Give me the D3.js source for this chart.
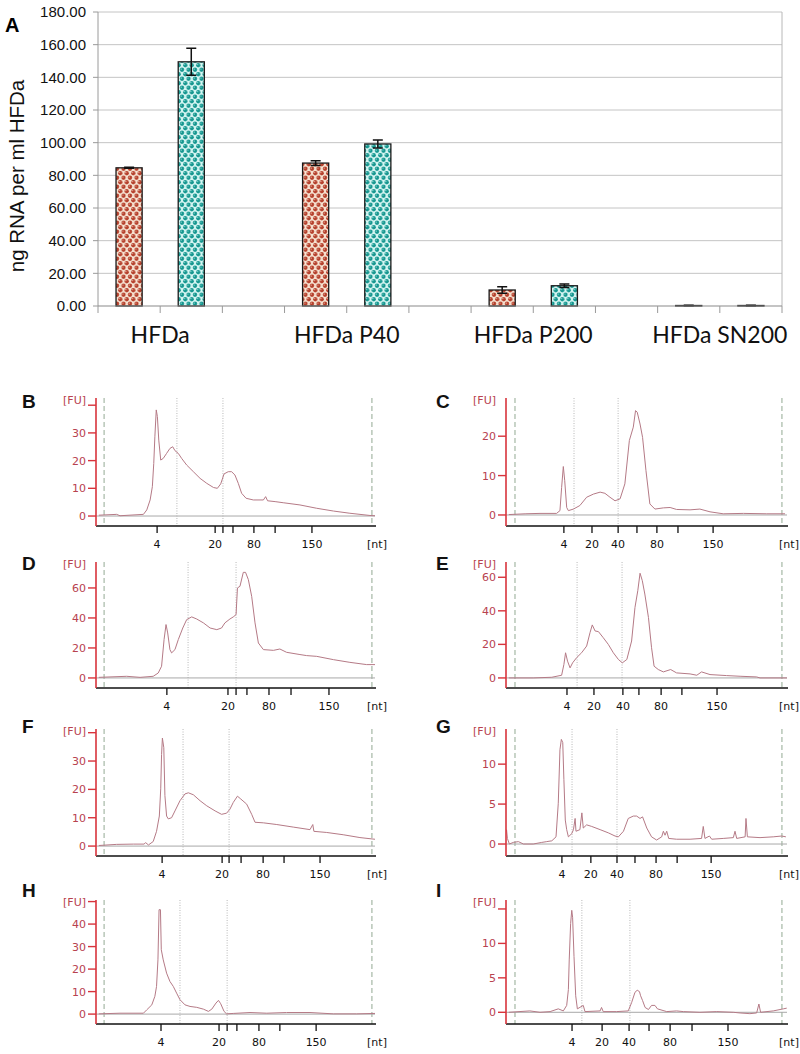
<!DOCTYPE html>
<html><head><meta charset="utf-8">
<script src="https://cdn.jsdelivr.net/npm/d3@7"></script>
<style>body{margin:0;background:#fff}svg{display:block}</style>
</head><body>
<svg id="fig" width="800" height="1054"></svg>
<script>
// ---------- Panel A data ----------
const groups = ["HFDa", "HFDa P40", "HFDa P200", "HFDa SN200"];
const redValues = [84.6, 87.5, 9.8, 0.3];
const redErrors = [0.3, 1.5, 2.0, 0.1];
const tealValues = [149.5, 99.2, 12.4, 0.3];
const tealErrors = [8.3, 2.5, 1.0, 0.1];
const yTicksA = [0, 20, 40, 60, 80, 100, 120, 140, 160, 180];
const yTitleA = "ng RNA per ml HFDa";

// ---------- Electropherogram data (migration a.u. 0-100, FU) ----------
const traceB = [[1,0.3],[7.4,0.6],[8.6,0.1],[17.0,0.6],[18.2,2.2],[19.4,5.8],[20.2,10.6],[20.7,19.0],[21.1,28.6],[21.6,38.3],[22.0,35.9],[22.5,27.4],[23.2,20.2],[24.1,20.8],[25.3,22.6],[26.5,24.4],[27.5,25.0],[28.3,23.6],[29.5,22.6],[30.7,20.8],[32.5,18.4],[34.9,16.0],[37.3,13.6],[39.7,11.8],[42.1,10.3],[43.5,10.0],[44.7,11.6],[45.9,15.2],[47.4,16.0],[48.6,16.0],[49.8,14.8],[51.0,11.8],[52.2,8.2],[53.8,6.4],[56.4,5.8],[60.0,5.8],[60.8,7.0],[61.5,5.5],[64.2,5.2],[67.1,4.8],[73.1,4.0],[79.1,2.8],[85.1,1.8],[91.0,1.0],[98.2,0.2],[100,0.1]];
const traceD = [[1,0.4],[11.0,1.1],[15.8,0.4],[20.5,1.1],[22.3,3.3],[23.5,7.8],[24.4,25.6],[25.1,35.6],[25.7,30.0],[26.5,18.9],[27.1,16.7],[28.3,18.9],[29.5,25.6],[31.1,33.3],[32.5,38.9],[34.3,40.7],[36.1,39.3],[38.5,36.7],[40.9,33.3],[43.3,32.2],[45.0,33.3],[46.2,36.7],[48.0,39.3],[49.2,40.7],[50.2,42.2],[50.7,60.0],[51.6,61.1],[52.8,70.4],[53.6,70.4],[54.6,65.6],[55.8,54.4],[57.0,36.7],[58.2,23.3],[60.0,18.9],[63.6,18.4],[65.9,19.3],[68.3,17.1],[73.1,15.6],[75.5,14.9],[79.1,14.4],[85.1,12.2],[91.0,10.4],[97.0,8.9],[100,8.9]];
const traceF = [[1,0.2],[7.4,0.6],[13.4,0.7],[17.2,0.7],[17.8,1.2],[18.8,0.4],[20.5,1.6],[21.7,5.2],[22.7,10.6],[23.2,20.2],[23.5,32.3],[23.8,38.1],[24.3,34.7],[24.7,17.8],[25.3,10.6],[25.9,9.6],[27.1,10.0],[28.3,12.4],[30.1,16.0],[31.9,18.4],[33.1,18.8],[34.9,18.1],[37.3,16.0],[39.7,14.2],[42.7,12.4],[45.0,11.2],[46.8,11.6],[48.0,13.0],[49.2,15.4],[50.7,17.6],[51.9,16.6],[54.0,14.8],[55.8,11.2],[57.0,8.4],[60.0,8.2],[64.8,7.6],[70.7,6.7],[76.7,5.8],[77.7,7.6],[78.1,5.2],[82.7,4.8],[88.6,4.0],[94.6,3.0],[100,2.4]];
const traceH = [[1,0.1],[8.6,0.4],[17.0,0.4],[18.2,1.9],[20.0,4.1],[21.1,7.9],[21.7,12.3],[22.2,24.1],[22.6,46.4],[23.1,46.4],[23.4,28.6],[24.1,24.1],[25.3,18.2],[26.5,14.5],[27.7,12.3],[28.9,9.3],[30.1,6.4],[31.9,4.1],[33.7,3.4],[36.1,3.0],[38.5,2.2],[40.3,1.2],[41.5,2.2],[43.0,4.9],[43.9,6.1],[44.7,4.6],[45.9,1.2],[46.8,0.1],[49.2,0.3],[55.2,0.7],[61.2,0.4],[68.3,0.7],[76.7,0.7],[85.1,0.1],[93.4,0.1],[100,0.3]];
const traceC = [[1,0.1],[6.8,0.3],[12.1,0.4],[18.0,0.4],[19.2,1.1],[19.8,7.0],[20.4,12.3],[20.9,8.7],[21.6,1.9],[22.2,1.1],[24.0,1.5],[26.3,2.4],[28.7,4.5],[29.9,4.9],[31.1,5.3],[33.5,5.8],[35.2,5.5],[37.0,4.5],[38.8,3.6],[40.6,4.1],[42.3,7.9],[43.9,18.9],[45.3,22.3],[46.1,26.5],[46.7,26.1],[47.7,23.1],[48.6,19.7],[49.8,11.3],[51.2,2.8],[53.0,1.5],[56.0,1.8],[58.4,1.9],[60.7,1.4],[65.5,1.3],[69.0,1.5],[72.6,0.8],[77.3,0.3],[84.5,0.4],[92.8,0.3],[99.3,0.3]];
const traceE = [[1,0],[9.7,0],[16.3,0.4],[19.8,1.6],[20.6,8.0],[21.2,15.0],[21.9,10.0],[22.8,6.0],[23.7,9.0],[25.1,12.0],[26.9,15.0],[28.7,19.0],[29.9,27.0],[30.7,31.6],[31.7,28.0],[32.9,27.6],[34.6,24.0],[36.4,20.0],[38.2,15.0],[40.0,11.0],[41.4,9.0],[43.0,11.0],[44.7,22.0],[45.9,42.0],[46.9,52.0],[47.7,62.4],[48.5,58.0],[49.4,50.0],[50.7,36.0],[51.8,18.0],[52.7,7.0],[54.2,5.0],[56.0,3.6],[58.6,5.0],[60.7,3.0],[65.5,2.4],[67.9,1.6],[69.6,3.6],[72.6,2.0],[78.5,1.4],[83.3,1.0],[89.2,0.6],[90.4,0],[100,0]];
const traceG = [[0.2,1.8],[0.5,0.7],[1.2,0],[2.6,0.2],[4.4,0.3],[6.2,0],[9.7,0],[12.7,0.2],[14.5,0.3],[16.3,0.4],[17.8,0.9],[18.6,5.1],[19.2,11.8],[19.7,13.1],[20.2,12.7],[20.6,8.1],[21.1,3.0],[21.6,1.8],[22.2,0.9],[23.4,1.3],[24.0,1.8],[24.6,3.2],[24.9,1.6],[26.3,1.8],[27.0,3.9],[27.5,2.0],[28.7,2.4],[30.5,2.2],[33.5,1.8],[36.4,1.4],[38.8,1.0],[40.0,0.9],[41.8,1.6],[43.5,3.2],[45.3,3.5],[46.5,3.5],[47.7,3.2],[48.6,3.4],[50.1,2.0],[51.8,0.9],[53.6,0.5],[55.4,0.9],[56.0,1.6],[56.6,1.1],[57.2,1.6],[57.9,0.7],[60.7,0.6],[65.5,0.6],[69.6,0.7],[70.2,2.2],[70.8,0.7],[72.4,1.0],[73.2,0.6],[77.3,0.7],[80.9,0.8],[81.5,1.6],[82.1,0.7],[85.1,0.9],[85.4,3.2],[85.9,0.9],[90.4,0.8],[95.1,0.9],[98.1,1.0],[99.6,0.9]];
const traceI = [[1,0],[8.5,0.2],[12.1,0],[15.7,0.1],[18.6,0.5],[20.4,0.2],[21.6,1.0],[22.2,3.3],[22.5,7.6],[23.0,12.9],[23.4,14.8],[23.7,13.8],[24.2,8.1],[24.8,2.4],[25.4,0.5],[27.5,1.0],[28.1,0.1],[33.5,0.2],[34.0,0.7],[34.6,0.1],[39.4,0.1],[43.5,0.2],[44.7,1.4],[45.9,2.9],[46.7,3.2],[47.5,3.0],[47.9,2.4],[48.6,1.7],[49.5,0.7],[50.7,0.4],[51.8,1.0],[53.0,1.0],[53.9,0.5],[57.2,0.1],[60.7,0.2],[63.1,0.1],[69.0,0],[75.0,0.1],[80.9,0],[83.3,-0.1],[86.8,-0.2],[89.2,-0.1],[90.0,1.2],[90.6,0],[95.1,0.2],[98.7,0.5],[99.9,0.6]];

// ladder tick positions (migration a.u.) and labels
const ladderLabelsLeft = ["4", "20", "", "", "80", "", "150"];
const ladderLabelsRight = ["4", "20", "40", "", "80", "", "150"];
const ladderB = [21.9, 42.7, 45.5, 49.1, 56.6, 64.2, 77.4];
const ladderD = [25.4, 47.3, 50.2, 54.1, 62.0, 69.9, 83.5];
const ladderF = [23.7, 45.2, 47.7, 52.0, 59.9, 67.4, 80.3];
const ladderH = [23.3, 44.1, 47.0, 50.5, 58.4, 65.9, 78.9];
const ladderC = [20.6, 30.6, 39.9, 46.6, 53.7, 61.2, 73.7];
const ladderE = [21.7, 31.3, 41.6, 47.3, 55.2, 62.6, 75.1];
const ladderG = [19.9, 30.2, 39.5, 45.9, 53.4, 60.9, 73.0];
const ladderI = [23.5, 34.2, 43.8, 50.9, 58.4, 66.2, 79.0];

// region markers (dotted) and dashed boundary lines
const markersB = [29.0, 45.5], markersD = [33.0, 50.2], markersF = [31.2, 47.7], markersH = [30.1, 47.0];
const markersC = [24.2, 39.9], markersE = [25.3, 41.3], markersG = [23.5, 39.5], markersI = [27.0, 44.1];
const boundsLeft = [2.9, 98.9], boundsRight = [3.2, 98.2];

// y ticks (FU)
const yTicksB = [0, 10, 20, 30], yTopB = 40, yDomB = [-3.6, 42.6];
const yTicksD = [0, 20, 40, 60], yTopD = null, yDomD = [-6.7, 77.3];
const yTicksF = [0, 10, 20, 30], yTopF = 40, yDomF = [-3.5, 41.3];
const yTicksH = [0, 10, 20, 30, 40], yTopH = 50, yDomH = [-4.4, 50.7];
const yTicksC = [0, 10, 20], yTopC = null, yDomC = [-2.8, 29.7];
const yTicksE = [0, 20, 40, 60], yTopE = null, yDomE = [-6.0, 69.1];
const yTicksG = [0, 5, 10], yTopG = null, yDomG = [-1.5, 14.4];
const yTicksI = [0, 5, 10], yTopI = 15, yDomI = [-1.7, 16.3];

const panels = [
  {letter: "B", col: 0, row: 0, trace: traceB, ladder: ladderB, markers: markersB, ticks: yTicksB, top: yTopB, dom: yDomB},
  {letter: "D", col: 0, row: 1, trace: traceD, ladder: ladderD, markers: markersD, ticks: yTicksD, top: yTopD, dom: yDomD},
  {letter: "F", col: 0, row: 2, trace: traceF, ladder: ladderF, markers: markersF, ticks: yTicksF, top: yTopF, dom: yDomF},
  {letter: "H", col: 0, row: 3, trace: traceH, ladder: ladderH, markers: markersH, ticks: yTicksH, top: yTopH, dom: yDomH},
  {letter: "C", col: 1, row: 0, trace: traceC, ladder: ladderC, markers: markersC, ticks: yTicksC, top: yTopC, dom: yDomC},
  {letter: "E", col: 1, row: 1, trace: traceE, ladder: ladderE, markers: markersE, ticks: yTicksE, top: yTopE, dom: yDomE},
  {letter: "G", col: 1, row: 2, trace: traceG, ladder: ladderG, markers: markersG, ticks: yTicksG, top: yTopG, dom: yDomG},
  {letter: "I", col: 1, row: 3, trace: traceI, ladder: ladderI, markers: markersI, ticks: yTicksI, top: yTopI, dom: yDomI}
];

// ---------- drawing ----------
const svg = d3.select("#fig");
const defs = svg.append("defs");
function dotPattern(id, bg, dot, hi) {
  const w = 6.5, h = 9, r = 2.15;
  const p = defs.append("pattern").attr("id", id).attr("patternUnits", "userSpaceOnUse")
    .attr("width", w).attr("height", h);
  p.append("rect").attr("width", w).attr("height", h).attr("fill", bg);
  [[w / 2, h / 4], [0, 3 * h / 4], [w, 3 * h / 4]].forEach(([cx, cy]) => {
    p.append("circle").attr("cx", cx).attr("cy", cy).attr("r", r).attr("fill", dot);
    p.append("circle").attr("cx", cx - 0.7).attr("cy", cy - 0.7).attr("r", 0.6).attr("fill", hi);
  });
}
dotPattern("patRed", "#f7e3d2", "#b5402c", "#f0c0ae");
dotPattern("patTeal", "#d6f6f3", "#15968f", "#9fe4dd");

// ----- Panel A -----
const A = {left: 98, right: 782, top: 12, bottom: 306};
const nSlots = groups.length * 3 - 1;
const xA = d3.scaleBand().domain(d3.range(nSlots)).range([A.left, A.right]).padding(0);
const yA = d3.scaleLinear().domain([0, 180]).range([A.bottom, A.top]);
const gA = svg.append("g");

gA.selectAll("line.grid").data(yTicksA.filter(d => d > 0)).join("line")
  .attr("x1", A.left).attr("x2", A.right).attr("y1", d => yA(d)).attr("y2", d => yA(d))
  .attr("stroke", "#c4c4c4").attr("stroke-width", 1);
gA.append("line").attr("x1", A.right).attr("x2", A.right).attr("y1", A.top).attr("y2", A.bottom)
  .attr("stroke", "#b8b8b8");
gA.append("line").attr("x1", A.left).attr("x2", A.left).attr("y1", A.top).attr("y2", A.bottom)
  .attr("stroke", "#9a9a9a");
gA.selectAll("line.yt").data(yTicksA).join("line")
  .attr("x1", A.left - 5).attr("x2", A.left).attr("y1", d => yA(d)).attr("y2", d => yA(d))
  .attr("stroke", "#9a9a9a");
gA.selectAll("text.yl").data(yTicksA).join("text")
  .attr("x", A.left - 12).attr("y", d => yA(d)).attr("dy", "0.35em").attr("text-anchor", "end")
  .attr("font-family", "Liberation Sans, Arial, sans-serif").attr("font-size", 15).attr("fill", "#111")
  .text(d => d.toFixed(2));
gA.append("text").attr("transform", `translate(24,176) rotate(-90)`)
  .attr("text-anchor", "middle").attr("font-family", "Liberation Sans, Arial, sans-serif")
  .attr("font-size", 20.5).attr("fill", "#111").text(yTitleA);
gA.append("text").attr("x", 5).attr("y", 32).attr("font-family", "Liberation Sans, Arial, sans-serif")
  .attr("font-weight", "bold").attr("font-size", 20).text("A");

const bw = xA.step() * 0.42;
function barData(vals, errs, s) {
  return vals.map((v, g) => ({v, e: errs[g], slot: g * 3 + s}));
}
[[barData(redValues, redErrors, 0), "url(#patRed)"], [barData(tealValues, tealErrors, 1), "url(#patTeal)"]]
  .forEach(([data, fill]) => {
    const cx = d => xA(d.slot) + xA.step() / 2;
    gA.selectAll(null).data(data).join("rect")
      .attr("x", d => cx(d) - bw / 2).attr("width", bw)
      .attr("y", d => yA(d.v)).attr("height", d => yA(0) - yA(d.v))
      .attr("fill", fill).attr("stroke", "#1a1a1a").attr("stroke-width", 1.3);
    gA.selectAll(null).data(data).join("path")
      .attr("d", d => `M${cx(d)},${yA(d.v + d.e)}V${yA(d.v - d.e)}M${cx(d) - 5},${yA(d.v + d.e)}H${cx(d) + 5}M${cx(d) - 5},${yA(d.v - d.e)}H${cx(d) + 5}`)
      .attr("stroke", "#111").attr("stroke-width", 1.5).attr("fill", "none");
  });
// x axis of A
gA.append("line").attr("x1", A.left).attr("x2", A.right).attr("y1", A.bottom).attr("y2", A.bottom)
  .attr("stroke", "#8a8a8a").attr("stroke-width", 1.2);
gA.selectAll("line.xt").data(d3.range(nSlots + 1)).join("line")
  .attr("x1", i => A.left + i * xA.step()).attr("x2", i => A.left + i * xA.step())
  .attr("y1", A.bottom).attr("y2", A.bottom + 7).attr("stroke", "#9a9a9a");
gA.selectAll("text.cat").data(groups).join("text")
  .attr("x", (d, g) => xA(g * 3) + xA.step())
  .attr("y", 343).attr("text-anchor", "middle")
  .attr("font-family", "Lato, 'Open Sans', sans-serif").attr("font-size", 23).attr("fill", "#111")
  .text(d => d);

// ----- Electropherograms -----
const colX = [[96, 375], [506, 787]];
const rowTop = [398, 562, 729, 900];
const rowBottom = [526, 688, 856, 1024];
const letterX = [22, 436];
const letterY = [408, 570, 733, 897];
const redAxis = "#d8343c", redText = "#b8424f", traceColor = "#b57a86";

panels.forEach(p => {
  const [x0, x1] = colX[p.col];
  const top = rowTop[p.row], bottom = rowBottom[p.row];
  const x = d3.scaleLinear().domain([0, 100]).range([x0, x1]);
  const y = d3.scaleLinear().domain(p.dom).range([bottom, top]);
  const g = svg.append("g");
  const bounds = p.col === 0 ? boundsLeft : boundsRight;
  const labels = p.col === 0 ? ladderLabelsLeft : ladderLabelsRight;

  g.selectAll(null).data(bounds).join("line")
    .attr("x1", d => x(d)).attr("x2", d => x(d)).attr("y1", top).attr("y2", bottom)
    .attr("stroke", "#93a993").attr("stroke-width", 1).attr("stroke-dasharray", "5,3");
  g.selectAll(null).data(p.markers).join("line")
    .attr("x1", d => x(d)).attr("x2", d => x(d)).attr("y1", top).attr("y2", bottom)
    .attr("stroke", "#b8b8b8").attr("stroke-width", 1).attr("stroke-dasharray", "1,1.5");
  g.append("line").attr("x1", x0).attr("x2", x1).attr("y1", y(0)).attr("y2", y(0))
    .attr("stroke", "#a8a8a8").attr("stroke-width", 1);
  g.append("path").datum(p.trace)
    .attr("d", d3.line().x(d => x(d[0])).y(d => y(d[1])))
    .attr("fill", "none").attr("stroke", traceColor).attr("stroke-width", 1);
  g.append("line").attr("x1", x0).attr("x2", x1 + 1).attr("y1", bottom).attr("y2", bottom)
    .attr("stroke", "#111").attr("stroke-width", 1.4);
  g.selectAll(null).data(p.ladder).join("line")
    .attr("x1", d => x(d)).attr("x2", d => x(d)).attr("y1", bottom).attr("y2", bottom + 7)
    .attr("stroke", "#111").attr("stroke-width", 1.3);
  g.selectAll(null).data(p.ladder).join("text")
    .attr("x", d => x(d)).attr("y", bottom + 22).attr("text-anchor", "middle")
    .attr("font-family", "DejaVu Sans, sans-serif").attr("font-size", 11).attr("fill", "#111")
    .text((d, i) => labels[i]);
  g.append("text").attr("x", x1 + 2).attr("y", bottom + 22).attr("text-anchor", "middle")
    .attr("font-family", "DejaVu Sans, sans-serif").attr("font-size", 11).attr("fill", "#111").text("[nt]");
  g.append("line").attr("x1", x0).attr("x2", x0).attr("y1", top).attr("y2", bottom)
    .attr("stroke", redAxis).attr("stroke-width", 1.6);
  const tickVals = p.top !== null ? p.ticks.concat([p.top]) : p.ticks;
  g.selectAll(null).data(tickVals).join("line")
    .attr("x1", x0 - 8).attr("x2", x0).attr("y1", d => y(d)).attr("y2", d => y(d))
    .attr("stroke", redAxis).attr("stroke-width", 1.4);
  g.selectAll(null).data(p.ticks).join("text")
    .attr("x", x0 - 10).attr("y", d => y(d)).attr("dy", "0.36em").attr("text-anchor", "end")
    .attr("font-family", "DejaVu Sans, sans-serif").attr("font-size", 11).attr("fill", redText)
    .text(d => d);
  g.append("text").attr("x", x0 - 10).attr("y", top + 6).attr("text-anchor", "end")
    .attr("font-family", "DejaVu Sans, sans-serif").attr("font-size", 11).attr("fill", redText).text("[FU]");
  g.append("text").attr("x", letterX[p.col]).attr("y", letterY[p.row])
    .attr("font-family", "Liberation Sans, Arial, sans-serif").attr("font-weight", "bold")
    .attr("font-size", 19).attr("fill", "#111").text(p.letter);
});
</script>
</body></html>
